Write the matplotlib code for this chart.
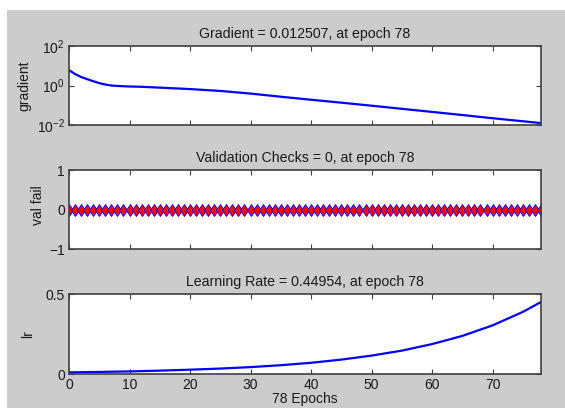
import numpy as np
import matplotlib
matplotlib.use("Agg")
import matplotlib.pyplot as plt
from matplotlib.patches import Rectangle
from matplotlib.ticker import NullLocator, FixedLocator

plt.rcParams['font.family'] = ['Liberation Sans', 'DejaVu Sans']
plt.rcParams['font.size'] = 8.5
plt.rcParams['mathtext.default'] = 'regular'

# gradient
grad_epochs = [0, 1, 2, 3, 4, 5, 6, 7, 8, 10, 12, 15, 20, 25, 30, 35, 40, 45, 50, 55, 60, 65, 70, 75, 78]
grad_vals = [6.0, 3.8, 2.7, 2.1, 1.65, 1.32, 1.12, 1.0, 0.95, 0.89, 0.86, 0.78, 0.66, 0.53, 0.39,
             0.27, 0.19, 0.135, 0.095, 0.066, 0.046, 0.032, 0.022, 0.0155, 0.0125]

# validation checks, 0 at every epoch
val_epochs = list(range(79))
val_fail = [0] * 79

# learning rate
lr_epochs = [0, 5, 10, 15, 20, 25, 30, 35, 40, 45, 50, 55, 60, 65, 70, 75, 78]
lr_vals = [0.010, 0.013, 0.016, 0.021, 0.027, 0.034, 0.043, 0.055, 0.070, 0.090, 0.115, 0.146,
           0.187, 0.238, 0.304, 0.388, 0.450]

xticks = [0, 10, 20, 30, 40, 50, 60, 70]
txt = '#1a1a1a'
spine = '#404040'
lab_size = 10

fig = plt.figure(figsize=(5.65, 4.08), dpi=100, facecolor='white')
fig.patches.append(Rectangle((7 / 565, 0), 1 - 7 / 565, 1 - 10 / 408, transform=fig.transFigure,
                             facecolor='#cccccc', edgecolor='none', zorder=-10))

W = 472 / 565
L = 69 / 565
ax1 = fig.add_axes([L, 1 - 125 / 408, W, 79 / 408])
ax2 = fig.add_axes([L, 1 - 249 / 408, W, 79 / 408])
ax3 = fig.add_axes([L, 1 - 374 / 408, W, 80 / 408])

ax1.semilogy(grad_epochs, grad_vals, color='blue', lw=1.6)
ax1.set_ylim(1e-2, 1e2)
ax1.yaxis.set_major_locator(FixedLocator([1e-2, 1, 1e2]))
ax1.yaxis.set_minor_locator(NullLocator())
ax1.set_ylabel('gradient', color=txt, fontsize=lab_size)
ax1.yaxis.set_label_coords(-0.0805, 0.5)
ax1.set_title('Gradient = 0.012507, at epoch 78', color=txt, pad=6)

ax2.plot(val_epochs, val_fail, color='blue', lw=1.2, marker='d', markersize=6.2,
         markerfacecolor='red', markeredgecolor='blue', markeredgewidth=0.6)
ax2.set_ylim(-1, 1)
ax2.set_yticks([-1, 0, 1])
ax2.set_ylabel('val fail', color=txt, fontsize=lab_size)
ax2.yaxis.set_label_coords(-0.0508, 0.55)
ax2.set_title('Validation Checks = 0, at epoch 78', color=txt, pad=6)

ax3.plot(lr_epochs, lr_vals, color='blue', lw=1.6)
ax3.set_ylim(0, 0.5)
ax3.set_yticks([0, 0.5])
ax3.set_yticklabels(['0', '0.5'])
ax3.set_ylabel('lr', color=txt, fontsize=lab_size)
ax3.yaxis.set_label_coords(-0.072, 0.5)
ax3.set_title('Learning Rate = 0.44954, at epoch 78', color=txt, pad=6)
ax3.set_xlabel('78 Epochs', color=txt, fontsize=lab_size, labelpad=0)

for ax in (ax1, ax2, ax3):
    ax.set_xlim(0, 78)
    ax.set_xticks(xticks)
    ax.set_facecolor('white')
    ax.tick_params(direction='in', top=True, right=True, length=3.5, width=0.8,
                   colors=spine, labelcolor=txt, labelsize=10, pad=3)
    for s in ax.spines.values():
        s.set_color(spine)
        s.set_linewidth(1.2)
    if ax is not ax3:
        ax.tick_params(labelbottom=False)

fig.savefig('out.png', dpi=100, facecolor=fig.get_facecolor())
